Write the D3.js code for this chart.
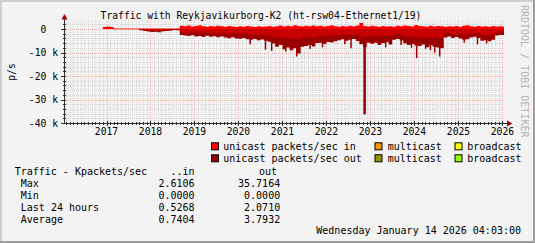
<!DOCTYPE html>
<html><head><meta charset="utf-8">
<script src="https://cdn.jsdelivr.net/npm/d3@7"></script>
<style>
body{margin:0;background:#f3f3f3}
svg{display:block}
text{font-family:"DejaVu Sans Mono",monospace;white-space:pre}
</style>
</head><body>
<svg id="c" width="535" height="243"></svg>
<script>
// ---- data (Kpackets/sec), one value per month starting Dec 2016 ----
const firstMonth = "2016-12-01";
const inMax = [0.9,1.1,0.8,0.2,0.2,0.2,0.2,0.2,0.2,0.2,
  0.2,0.2,0.2,0.2,0.2,0.2,0.2,0.2,0.2,0.2,0.2,
  1.4,1.2,1.5,1.1,1.3,1.6,1.2,1.0,1.3,1.1,1.4,1.2,
  1.0,1.3,1.1,0.9,1.2,1.0,1.3,1.1,0.9,1.2,1.0,1.1,
  1.3,1.0,1.2,1.5,1.1,1.4,1.2,1.6,1.3,1.1,1.4,1.2,
  1.5,1.2,1.4,1.1,1.3,1.6,1.2,1.0,1.3,1.1,1.4,1.2,
  1.5,2.6,1.3,1.1,1.4,1.2,1.0,1.3,1.1,1.2,1.0,1.4,
  1.2,1.5,1.3,1.1,1.7,1.3,1.2,1.0,1.4,1.1,1.3,1.2,
  1.0,1.2,1.1,1.3,1.0,1.4,1.6,1.2,1.0,1.3,1.1,1.2,
  1.0,1.3,1.1,1.2,1.0];
const outMax = [0,0,0,0.1,0.1,0.1,0.1,0.1,0.1,0.1,
  0.5,0.9,1.1,1.3,1.2,1.4,1.0,0.9,0.7,0.4,0.5,
  2.6,2.8,3.0,2.7,3.2,3.0,3.4,2.9,3.3,3.1,3.5,3.2,
  3.6,3.9,3.5,4.0,4.2,3.8,4.4,4.6,4.3,4.8,4.5,5.0,5.4,
  6.2,7.5,6.8,8.6,7.9,9.0,8.2,10.4,7.6,
  7.2,6.8,7.4,6.0,5.8,6.4,5.5,5.7,
  5.2,4.8,4.4,5.0,4.6,4.3,5.1,6.5,7.8,5.9,
  6.3,5.8,6.8,6.1,5.5,6.6,4.6,4.3,4.9,
  6.2,6.8,6.4,7.0,7.2,6.6,7.8,6.9,7.5,7.9,8.2,
  3.6,3.2,3.8,3.4,4.0,4.6,4.4,3.6,3.3,3.8,5.0,4.8,5.2,4.6,2.8,2.5,2.6];
const outAvg = [0,0,0,0.05,0.05,0.05,0.05,0.05,0.05,0.05,
  0.3,0.5,0.6,0.7,0.6,0.7,0.5,0.5,0.4,0.2,0.3,
  1.4,1.5,1.6,1.4,1.7,1.6,1.8,1.5,1.7,1.6,1.8,1.7,
  1.9,2.0,1.8,2.1,2.2,2.0,2.3,2.4,2.2,2.5,2.3,2.6,2.8,
  3.1,3.6,3.3,4.0,3.7,4.2,3.9,4.6,3.6,
  3.5,3.3,3.6,3.0,2.9,3.2,2.8,2.9,
  2.6,2.5,2.3,2.6,2.4,2.2,2.6,3.1,3.5,2.9,
  3.1,2.9,3.3,3.0,2.8,3.2,2.4,2.2,2.5,
  3.0,3.3,3.1,3.4,3.5,3.2,3.7,3.3,3.6,3.7,3.8,
  1.9,1.7,2.0,1.8,2.1,2.4,2.3,1.9,1.8,2.0,2.6,2.5,2.7,2.4,1.5,1.4,1.4];
const outSpikeDates = ["2020-04-10","2020-08-15","2020-10-05","2021-01-30","2021-05-01","2021-08-20","2021-12-01",
  "2022-06-05","2022-07-26","2022-11-12","2023-05-10","2023-09-15","2023-12-10","2024-01-22","2024-04-05",
  "2024-05-15","2024-06-20","2024-07-31","2025-02-20","2025-06-10","2025-08-25"];
const outSpikeValues = [6.5,8.8,9.3,9.6,11.7,8.5,7.8,
  6.5,8.2,36.3,7.8,6.8,8.0,12.4,8.4,
  9.0,10.0,11.7,5.8,6.5,6.2];
const yTicks = [0,-10,-20,-30,-40];
const yTickLabels = ["0  ","-10 k","-20 k","-30 k","-40 k"];
const yearTicks = ["2017","2018","2019","2020","2021","2022","2023","2024","2025","2026"];
const legendRow1 = [["unicast packets/sec in","#ff0000"],["multicast","#ff9900"],["broadcast","#ffff00"]];
const legendRow2 = [["unicast packets/sec out","#990000"],["multicast","#999900"],["broadcast","#99ff00"]];
const statRows = ["Max","Min","Last 24 hours","Average"];
const statIn = ["2.6106","0.0000","0.5268","0.7404"];
const statOut = ["35.7164","0.0000","2.0710","3.7932"];

// ---- drawing ----
const svg = d3.select("#c");
const W = 535, H = 243;
const L = 64, R = 504, T = 20, B = 123;
const x = d3.scaleUtc().domain([new Date(Date.UTC(2016,0,14)), new Date(Date.UTC(2026,0,14))]).range([L, R]);
const y = d3.scaleLinear().domain([-40, 3.83]).range([B, T]);

svg.append("rect").attr("width", W).attr("height", H).attr("fill", "#f3f3f3");
svg.append("rect").attr("x",0).attr("y",0).attr("width",W).attr("height",2).attr("fill","#cfcfcf");
svg.append("rect").attr("x",0).attr("y",0).attr("width",2).attr("height",H).attr("fill","#cfcfcf");
svg.append("rect").attr("x",0).attr("y",H-2).attr("width",W).attr("height",2).attr("fill","#9e9e9e");
svg.append("rect").attr("x",W-2).attr("y",0).attr("width",2).attr("height",H).attr("fill","#9e9e9e");

// grid
const g = svg.append("g");
const minorY = d3.range(-40, 3.83, 2);
g.selectAll(".hy").data(minorY.filter(v => v % 10 !== 0)).join("line")
  .attr("x1", L).attr("x2", R).attr("y1", d => Math.round(y(d)) + 0.5).attr("y2", d => Math.round(y(d)) + 0.5)
  .attr("stroke", "#d6d6d6").attr("stroke-dasharray", "1,1");
const months = d3.utcMonth.range(x.domain()[0], x.domain()[1]).filter(d => d.getUTCMonth() !== 0);
g.selectAll(".vx").data(months).join("line")
  .attr("x1", d => Math.round(x(d)) + 0.5).attr("x2", d => Math.round(x(d)) + 0.5).attr("y1", T).attr("y2", B)
  .attr("stroke", "#d6d6d6").attr("stroke-dasharray", "1,1");
g.selectAll(".my").data(yTicks).join("line")
  .attr("x1", L).attr("x2", R).attr("y1", d => Math.round(y(d)) + 0.5).attr("y2", d => Math.round(y(d)) + 0.5)
  .attr("stroke", "#f2b0b0").attr("stroke-dasharray", "1,1");
const years = yearTicks.map(s => new Date(Date.UTC(+s, 0, 1)));
g.selectAll(".mx").data(years).join("line")
  .attr("x1", d => Math.round(x(d)) + 0.5).attr("x2", d => Math.round(x(d)) + 0.5).attr("y1", T).attr("y2", B)
  .attr("stroke", "#f2b0b0").attr("stroke-dasharray", "1,1");

// data
svg.append("clipPath").attr("id", "pc").append("rect").attr("x", L).attr("y", T - 5).attr("width", R - L).attr("height", B - T + 5);
const start = new Date(firstMonth + "T00:00:00Z");
const mk = arr => { const a = arr.map((v, i) => ({date: d3.utcMonth.offset(start, i), v})); a.push({date: d3.utcMonth.offset(start, arr.length), v: arr[arr.length - 1]}); return a; };
const dg = svg.append("g").attr("clip-path", "url(#pc)");
const areaOut = d3.area().x(d => x(d.date)).y0(y(0)).y1(d => y(-d.v)).curve(d3.curveStepAfter);
const areaIn = d3.area().x(d => x(d.date)).y0(y(0)).y1(d => y(d.v)).curve(d3.curveStepAfter);
dg.append("path").datum(mk(outMax)).attr("d", areaOut).attr("fill", "#990000");
dg.selectAll(".sp").data(outSpikeDates.map((s, i) => ({date: new Date(s + "T00:00:00Z"), v: outSpikeValues[i]}))).join("rect")
  .attr("x", d => x(d.date) - 1).attr("width", d => d.v > 20 ? 2.5 : 1.5).attr("y", y(0)).attr("height", d => y(-d.v) - y(0)).attr("fill", "#990000");
dg.append("path").datum(mk(outAvg)).attr("d", areaOut).attr("fill", "#c80000");
dg.append("path").datum(mk(inMax)).attr("d", areaIn).attr("fill", "#ff0000");

// axes
const ax = svg.append("g");
ax.append("line").attr("x1", L + 0.5).attr("x2", L + 0.5).attr("y1", B + 0.5).attr("y2", 17).attr("stroke", "#303030");
ax.append("line").attr("x1", L).attr("x2", 509).attr("y1", B + 0.5).attr("y2", B + 0.5).attr("stroke", "#303030");
ax.append("path").attr("d", `M${L-2.5},19.5 L${L+0.5},14 L${L+3.5},19.5 Z`).attr("fill", "#a00000");
ax.append("path").attr("d", `M507,${B-2.5} L512.5,${B+0.5} L507,${B+3.5} Z`).attr("fill", "#a00000");
ax.selectAll(".ty").data(minorY).join("line")
  .attr("x1", d => d % 10 === 0 ? L - 3 : L - 1).attr("x2", L + 2).attr("y1", d => Math.round(y(d)) + 0.5).attr("y2", d => Math.round(y(d)) + 0.5)
  .attr("stroke", "#303030");
ax.selectAll(".tx").data(months).join("line")
  .attr("x1", d => Math.round(x(d)) + 0.5).attr("x2", d => Math.round(x(d)) + 0.5).attr("y1", B - 1).attr("y2", B + 2).attr("stroke", "#303030");
ax.selectAll(".tX").data(years).join("line")
  .attr("x1", d => Math.round(x(d)) + 0.5).attr("x2", d => Math.round(x(d)) + 0.5).attr("y1", B - 2).attr("y2", B + 3).attr("stroke", "#303030");

const txt = (sel, s, xx, yy, anchor) => sel.append("text").attr("x", xx).attr("y", yy).attr("text-anchor", anchor || "start").attr("font-size", "10px").attr("fill", "#000").text(s);

// y labels
svg.selectAll(".yl").data(yTicks).join("text")
  .attr("x", 58).attr("y", d => y(d) + 3.5).attr("text-anchor", "end").attr("font-size", "9.7px").attr("fill", "#000")
  .text((d, i) => yTickLabels[i]);
svg.append("text").attr("transform", "translate(15,72) rotate(-90)").attr("text-anchor", "middle").attr("font-size", "9.7px").text("p/s");
// x labels
svg.selectAll(".xl").data(years).join("text")
  .attr("x", d => x(d)).attr("y", 135).attr("text-anchor", "middle").attr("font-size", "9.7px").attr("fill", "#000")
  .text((d, i) => yearTicks[i]);
// title
svg.append("text").attr("x", 261).attr("y", 18.5).attr("text-anchor", "middle").attr("font-size", "9.7px")
  .text("Traffic with Reykjavikurborg-K2 (ht-rsw04-Ethernet1/19)");
// watermark
svg.append("text").attr("transform", "translate(521,5) rotate(90)").attr("font-size", "10px").attr("fill", "#b4b4b4")
  .text("RRDTOOL / TOBI OETIKER");

// legend
const legX = [[211, 223.3], [374.5, 387.7], [454.5, 467.3]];
[legendRow1, legendRow2].forEach((row, r) => {
  const yy = 150.3 + r * 12;
  row.forEach(([label, col], i) => {
    svg.append("rect").attr("x", legX[i][0] + 0.5).attr("y", yy - 7.5).attr("width", 7).attr("height", 7)
      .attr("fill", col).attr("stroke", "#000").attr("stroke-width", 1);
    txt(svg, label, legX[i][1], yy);
  });
});

// stats table
txt(svg, "Traffic - Kpackets/sec", 14.7, 175.2);
txt(svg, "..in", 194.5, 175.2, "end");
txt(svg, "out", 277, 175.2, "end");
statRows.forEach((lab, i) => {
  const yy = 187.1 + i * 11.8;
  txt(svg, lab, 20.8, yy);
  txt(svg, statIn[i], 194.5, yy, "end");
  txt(svg, statOut[i], 280.2, yy, "end");
});
txt(svg, "Wednesday January 14 2026 04:03:00", 521, 234, "end");
</script>
</body></html>
